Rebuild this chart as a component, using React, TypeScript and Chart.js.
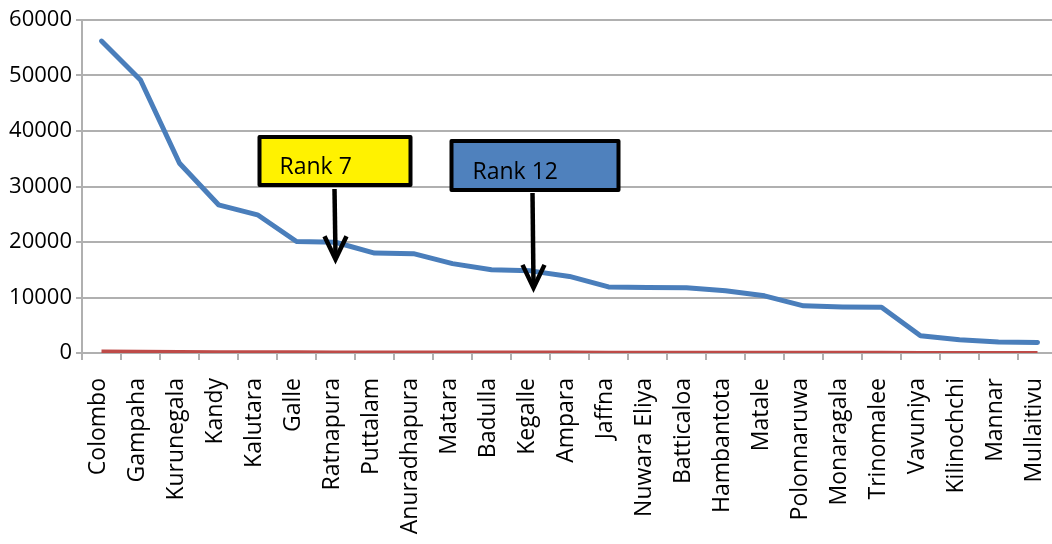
import React, { useEffect, useRef } from "react";
import { Chart, registerables } from "chart.js";

Chart.register(...registerables);

const districts = [
  "Colombo", "Gampaha", "Kurunegala", "Kandy", "Kalutara", "Galle", "Ratnapura",
  "Puttalam", "Anuradhapura", "Matara", "Badulla", "Kegalle", "Ampara", "Jaffna",
  "Nuwara Eliya", "Batticaloa", "Hambantota", "Matale", "Polonnaruwa", "Monaragala",
  "Trinomalee", "Vavuniya", "Kilinochchi", "Mannar", "Mullaitivu",
];

const mainSeries = [
  56200, 49200, 34200, 26700, 24900, 20100, 19950, 18000, 17900, 16100, 15000,
  14800, 13800, 11900, 11800, 11750, 11200, 10300, 8500, 8300, 8250, 3100, 2400,
  2000, 1900,
];

const minorSeries = [
  280, 240, 190, 150, 140, 120, 110, 100, 100, 90, 80, 80, 70, 60, 60, 60, 50, 50,
  40, 40, 30, 20, 20, 20, 10,
];

const yTicks = [0, 10000, 20000, 30000, 40000, 50000, 60000];

// Callout boxes with arrows pointing at a district
const callouts = [
  { text: "Rank 7", index: 6, fill: "#FFF200" },
  { text: "Rank 12", index: 11, fill: "#4F81BD" },
];

const calloutGeometry = [
  { left: -76, right: 75, top: 137, bottom: 185, textDx: -56, textY: 167, arrowDx: 0, arrowTop: 189 },
  { left: -79, right: 88, top: 141, bottom: 190, textDx: -58, textY: 172, arrowDx: 3, arrowTop: 193 },
];

const FONT = "'Open Sans', 'Noto Sans', sans-serif";

const calloutPlugin = {
  id: "calloutPlugin",
  afterDatasetsDraw(chart: any) {
    const ctx = chart.ctx as CanvasRenderingContext2D;
    const xs = chart.scales.x;
    const ys = chart.scales.y;
    callouts.forEach((c, i) => {
      const g = calloutGeometry[i];
      const cx = xs.getPixelForValue(c.index);
      const py = ys.getPixelForValue(mainSeries[c.index]);
      ctx.save();
      // box
      const x0 = cx + g.left;
      const x1 = cx + g.right;
      ctx.beginPath();
      ctx.rect(x0, g.top, x1 - x0, g.bottom - g.top);
      ctx.fillStyle = c.fill;
      ctx.fill();
      ctx.lineWidth = 4;
      ctx.lineJoin = "round";
      ctx.strokeStyle = "#000";
      ctx.stroke();
      // text
      ctx.fillStyle = "#000";
      ctx.font = `23px ${FONT}`;
      ctx.textAlign = "left";
      ctx.textBaseline = "middle";
      ctx.fillText(c.text, cx + g.textDx, g.textY);
      // arrow
      const ax = cx + g.arrowDx;
      const tipY = py + 17;
      ctx.lineWidth = 4.5;
      ctx.lineCap = "butt";
      ctx.beginPath();
      ctx.moveTo(ax - 1, g.arrowTop);
      ctx.lineTo(ax, tipY - 3);
      ctx.stroke();
      ctx.beginPath();
      ctx.lineJoin = "miter";
      ctx.moveTo(ax - 11, tipY - 23);
      ctx.lineTo(ax, tipY);
      ctx.lineTo(ax + 11, tipY - 23);
      ctx.stroke();
      ctx.restore();
    });
  },
};

export default function App() {
  const canvasRef = useRef<HTMLCanvasElement | null>(null);

  useEffect(() => {
    const canvas = canvasRef.current;
    if (!canvas) return;
    const chart = new Chart(canvas, {
      type: "line",
      data: {
        labels: districts,
        datasets: [
          {
            data: mainSeries,
            borderColor: "#4A7EBB",
            borderWidth: 5,
            pointRadius: 0,
            tension: 0,
            borderCapStyle: "round",
            borderJoinStyle: "round",
          },
          {
            data: minorSeries,
            borderColor: "#BE4B48",
            borderWidth: 4,
            pointRadius: 0,
            tension: 0,
          },
        ],
      },
      options: {
        animation: false,
        responsive: false,
        devicePixelRatio: 1,
        layout: { padding: { top: 20, right: 3, left: 0, bottom: 0 } },
        plugins: { legend: { display: false }, tooltip: { enabled: false } },
        scales: {
          x: {
            offset: true,
            grid: {
              offset: true,
              drawOnChartArea: false,
              drawTicks: true,
              tickLength: 7,
              color: "#B0B0B0",
              lineWidth: 2,
            },
            border: { color: "#B0B0B0", width: 2 },
            ticks: {
              autoSkip: false,
              minRotation: 90,
              maxRotation: 90,
              padding: 18,
              labelOffset: -3,
              color: "#000",
              font: { family: FONT, size: 23 },
            },
            afterFit: (s: any) => {
              s.height = 191;
              s.paddingLeft = 0;
              s.paddingRight = 0;
            },
          },
          y: {
            min: 0,
            max: 60000,
            afterBuildTicks: (s: any) => {
              s.ticks = yTicks.map((v) => ({ value: v }));
            },
            grid: {
              color: "#B0B0B0",
              lineWidth: 2,
              tickLength: 6,
            },
            border: { color: "#B0B0B0", width: 2 },
            ticks: {
              padding: 4,
              color: "#000",
              font: { family: FONT, size: 22 },
              callback: (v: any) => String(v),
            },
            afterFit: (s: any) => {
              s.width = 82;
              s.paddingTop = 0;
              s.paddingBottom = 0;
            },
          },
        },
      },
      plugins: [calloutPlugin],
    });
    return () => chart.destroy();
  }, []);

  return (
    <div style={{ position: "fixed", left: 0, top: 0, width: 1060, height: 544, background: "#fff" }}>
      <canvas ref={canvasRef} width={1060} height={544} style={{ display: "block" }} />
    </div>
  );
}
